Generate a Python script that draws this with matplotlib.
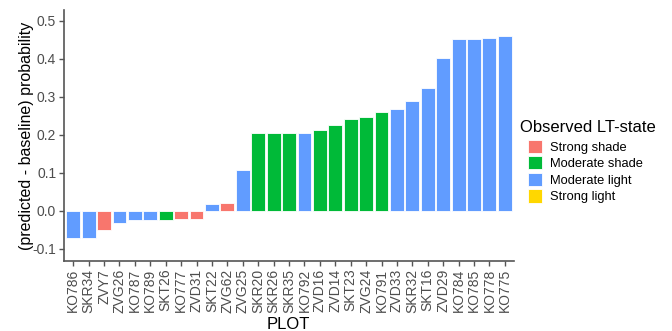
import matplotlib
matplotlib.use("Agg")
import matplotlib.pyplot as plt
from matplotlib.patches import Patch

plt.rcParams['font.family'] = ['Liberation Sans', 'DejaVu Sans']

# plots, ordered by effect
plots = ['KO786', 'SKR34', 'ZVY7', 'ZVG26', 'KO787', 'KO789', 'SKT26', 'KO777',
         'ZVD31', 'SKT22', 'ZVG62', 'ZVG25', 'SKR20', 'SKR26', 'SKR35', 'KO792',
         'ZVD16', 'ZVD14', 'SKT23', 'ZVG24', 'KO791', 'ZVD33', 'SKR32', 'SKT16',
         'ZVD29', 'KO784', 'KO785', 'KO778', 'KO775']
diff_prob = [-0.072, -0.072, -0.050, -0.031, -0.025, -0.025, -0.025, -0.022,
             -0.022, 0.019, 0.022, 0.108, 0.204, 0.204, 0.204, 0.204,
             0.213, 0.226, 0.242, 0.248, 0.261, 0.268, 0.289, 0.324,
             0.403, 0.453, 0.453, 0.455, 0.461]
observed = ['Moderate light', 'Moderate light', 'Strong shade', 'Moderate light',
            'Moderate light', 'Moderate light', 'Moderate shade', 'Strong shade',
            'Strong shade', 'Moderate light', 'Strong shade', 'Moderate light',
            'Moderate shade', 'Moderate shade', 'Moderate shade', 'Moderate light',
            'Moderate shade', 'Moderate shade', 'Moderate shade', 'Moderate shade',
            'Moderate shade', 'Moderate light', 'Moderate light', 'Moderate light',
            'Moderate light', 'Moderate light', 'Moderate light', 'Moderate light',
            'Moderate light']

states = ['Strong shade', 'Moderate shade', 'Moderate light', 'Strong light']
state_colors = {'Strong shade': '#F8766D', 'Moderate shade': '#00BA38',
                'Moderate light': '#619CFF', 'Strong light': '#FFD700'}

fig = plt.figure(figsize=(6.72, 3.31), dpi=100)
ax = fig.add_axes([0.0952, 0.2115, 0.765 - 0.0952, 0.97 - 0.2115])

x = range(len(plots))
ax.bar(x, diff_prob, width=0.9, color=[state_colors[s] for s in observed],
       edgecolor='white', linewidth=0.6)

ax.set_xlim(-0.6, len(plots) - 1 + 0.6)
ax.set_ylim(-0.132, 0.529)
ax.set_yticks([-0.1, 0.0, 0.1, 0.2, 0.3, 0.4, 0.5])
ax.set_yticklabels(['-0.1', '0.0', '0.1', '0.2', '0.3', '0.4', '0.5'])
ax.set_xticks(list(x))
ax.set_xticklabels(plots, rotation=90)

for side in ['top', 'right']:
    ax.spines[side].set_visible(False)
for side in ['left', 'bottom']:
    ax.spines[side].set_color('#555555')
    ax.spines[side].set_linewidth(1.2)
ax.tick_params(colors='#555555', labelcolor='#4D4D4D', labelsize=10,
               length=3.6, width=1.0, pad=2)

ax.set_xlabel('PLOT', fontsize=12)
ax.xaxis.set_label_coords(0.498, -0.225)
ax.set_ylabel('(predicted - baseline) probability', fontsize=11.5, labelpad=-1)

# legend title placed separately so it sits a little left of the keys
fig.text(520 / 672, 1 - 127 / 331, 'Observed LT-state', fontsize=12,
         ha='left', va='center')
handles = [Patch(facecolor=state_colors[s], edgecolor='white', linewidth=0.6)
           for s in states]
fig.legend(handles, states, loc='upper left',
           bbox_to_anchor=(516 / 672, 1 - 128 / 331), frameon=False,
           fontsize=9.3, handlelength=1.1, handleheight=1.2,
           labelspacing=0.2, handletextpad=0.6)

fig.savefig('out.png', dpi=100)
